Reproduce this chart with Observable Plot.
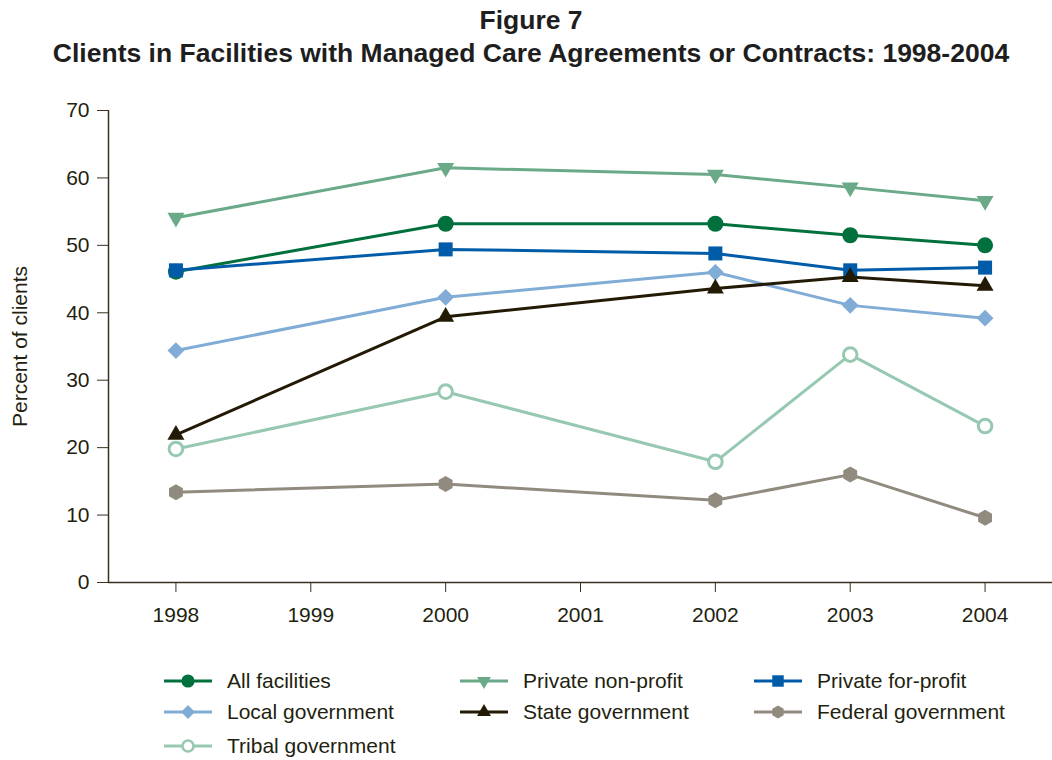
<!DOCTYPE html>
<html>
<head>
<meta charset="utf-8">
<script src="https://cdn.jsdelivr.net/npm/d3@7"></script>
<script src="https://cdn.jsdelivr.net/npm/@observablehq/plot@0.6"></script>
<style>
  html, body { margin: 0; padding: 0; background: #fff; }
  body { width: 1052px; height: 760px; position: relative; font-family: "Liberation Sans", Arial, Helvetica, sans-serif; color: #231f10; overflow: hidden; }
  #title { position: absolute; left: 0; width: 1062px; top: 4px; text-align: center; font-weight: bold; font-size: 26.5px; line-height: 33px; color: #1e1e1e; }
  #chart { position: absolute; left: 0; top: 90px; }
  .leg { position: absolute; display: flex; align-items: center; font-size: 21px; height: 30px; white-space: nowrap; }
  .leg svg { margin-right: 14px; }
</style>
</head>
<body>
<div id="title">Figure 7<br>Clients in Facilities with Managed Care Agreements or Contracts: 1998-2004</div>
<div id="chart"></div>
<div id="legend"></div>
<script>
// ---- Data ----
const years = [1998, 2000, 2002, 2003, 2004];
const xTicks = [1998, 1999, 2000, 2001, 2002, 2003, 2004];
const yTicks = [0, 10, 20, 30, 40, 50, 60, 70];
const seriesNames = ["All facilities", "Private non-profit", "Private for-profit", "Local government", "State government", "Federal government", "Tribal government"];
const allFacilities = [46.1, 53.2, 53.2, 51.5, 50.0];
const privateNonProfit = [54.1, 61.5, 60.5, 58.6, 56.6];
const privateForProfit = [46.3, 49.4, 48.8, 46.3, 46.7];
const localGovernment = [34.4, 42.3, 46.0, 41.1, 39.2];
const stateGovernment = [21.9, 39.4, 43.6, 45.3, 44.0];
const federalGovernment = [13.4, 14.6, 12.2, 16.0, 9.6];
const tribalGovernment = [19.8, 28.3, 17.9, 33.8, 23.2];
const seriesValues = [allFacilities, privateNonProfit, privateForProfit, localGovernment, stateGovernment, federalGovernment, tribalGovernment];

// ---- Symbols ----
const triangleDown = {
  draw(context, size) {
    const s = Math.sqrt(size * 4 / Math.sqrt(3));
    const h = s * Math.sqrt(3) / 2;
    context.moveTo(0, 2 * h / 3);
    context.lineTo(-s / 2, -h / 3);
    context.lineTo(s / 2, -h / 3);
    context.closePath();
  }
};
const hexagonTall = {
  draw(context, size) {
    const ry = Math.sqrt(size / Math.PI), rx = ry * Math.sqrt(3) / 2;
    context.moveTo(0, -ry);
    context.lineTo(rx, -ry / 2);
    context.lineTo(rx, ry / 2);
    context.lineTo(0, ry);
    context.lineTo(-rx, ry / 2);
    context.lineTo(-rx, -ry / 2);
    context.closePath();
  }
};
const diamondSq = {
  draw(context, size) {
    const r = Math.sqrt(size / 2);
    context.moveTo(0, -r);
    context.lineTo(r, 0);
    context.lineTo(0, r);
    context.lineTo(-r, 0);
    context.closePath();
  }
};
const styles = [
  {color: "#00703c", symbol: d3.symbolCircle, r: 8, hollow: false},
  {color: "#6aaa88", symbol: triangleDown, r: 6.3, hollow: false},
  {color: "#005ba9", symbol: d3.symbolSquare, r: 7.9, hollow: false},
  {color: "#80acd6", symbol: diamondSq, r: 6.7, hollow: false},
  {color: "#231a06", symbol: d3.symbolTriangle, r: 6.3, hollow: false},
  {color: "#918a7f", symbol: hexagonTall, r: 8, hollow: false},
  {color: "#97c8b1", symbol: d3.symbolCircle, r: 6.8, hollow: true}
];

const data = seriesNames.flatMap((name, i) => years.map((year, j) => ({series: name, year, value: seriesValues[i][j]})));

const axisColor = "#3a3020";
const marks = [
  Plot.ruleY([0], {stroke: axisColor, strokeWidth: 1.5}),
  Plot.ruleX([1997.5], {stroke: axisColor, strokeWidth: 1.5}),
  Plot.axisY({ticks: yTicks, tickSize: 11, tickPadding: 8, fontSize: 21, label: null, stroke: axisColor, fill: "#231f10"}),
  Plot.axisX({ticks: xTicks, tickFormat: d => String(d), tickSize: 10, tickPadding: 15, fontSize: 21, label: null, stroke: axisColor, fill: "#231f10"}),
  Plot.text(["Percent of clients"], {frameAnchor: "left", dx: -88, rotate: -90, fontSize: 21, fill: "#231f10", textAnchor: "middle"})
];
seriesNames.forEach((name, i) => {
  const st = styles[i];
  const d = data.filter(e => e.series === name);
  marks.push(Plot.line(d, {x: "year", y: "value", stroke: st.color, strokeWidth: 3}));
  marks.push(Plot.dot(d, {
    x: "year", y: "value", symbol: () => st.symbol, r: st.r,
    fill: st.hollow ? "white" : st.color,
    stroke: st.hollow ? st.color : "none",
    strokeWidth: st.hollow ? 3 : 0
  }));
});

const chart = Plot.plot({
  width: 1052,
  height: 550,
  marginLeft: 108,
  marginRight: 0,
  marginTop: 20,
  marginBottom: 58,
  style: {fontFamily: '"Liberation Sans", Arial, Helvetica, sans-serif', fontSize: "21px", color: "#231f10", background: "white"},
  x: {domain: [1997.5, 2004.5]},
  y: {domain: [0, 70]},
  symbol: {type: "identity"},
  marks
});
document.getElementById("chart").appendChild(chart);

// ---- Legend ----
const legPos = [
  [163, 666], [459, 666], [753, 666],
  [163, 697], [459, 697], [753, 697],
  [163, 731]
];
const legendDiv = document.getElementById("legend");
seriesNames.forEach((name, i) => {
  const st = styles[i];
  const item = document.createElement("div");
  item.className = "leg";
  item.style.left = legPos[i][0] + "px";
  item.style.top = legPos[i][1] + "px";
  const svg = d3.create("svg").attr("width", 50).attr("height", 30);
  svg.append("line").attr("x1", 1).attr("x2", 49).attr("y1", 15).attr("y2", 15).attr("stroke", st.color).attr("stroke-width", 3);
  const rr = st.r * 0.82;
  svg.append("path")
    .attr("transform", "translate(25,15)")
    .attr("d", d3.symbol(st.symbol, Math.PI * rr * rr)())
    .attr("fill", st.hollow ? "white" : st.color)
    .attr("stroke", st.hollow ? st.color : "none")
    .attr("stroke-width", st.hollow ? 2.5 : 0);
  item.appendChild(svg.node());
  const span = document.createElement("span");
  span.textContent = name;
  item.appendChild(span);
  legendDiv.appendChild(item);
});
</script>
</body>
</html>
